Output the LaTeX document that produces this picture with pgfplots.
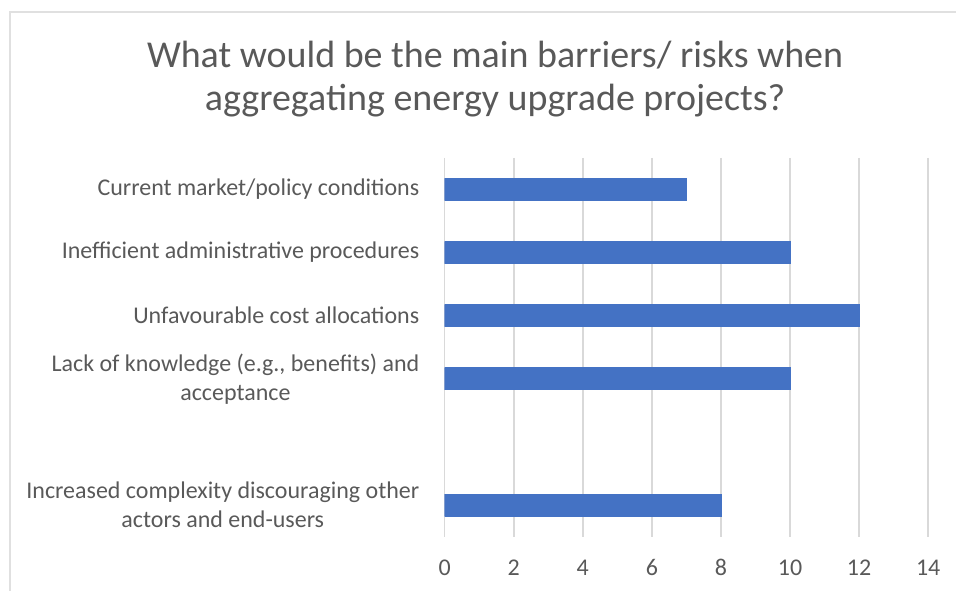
\documentclass[border=0pt]{standalone}
\usepackage{fontspec}
\setmainfont{Carlito}
\usepackage{pgfplots}
\pgfplotsset{compat=1.18}
\definecolor{barblue}{HTML}{4472C4}
\definecolor{txt}{HTML}{595959}
\definecolor{gridc}{HTML}{D9D9D9}
\definecolor{frame}{HTML}{E0E0E0}
\begin{document}
\begin{tikzpicture}
% page box: 957 x 591 px, 1px = 0.5bp
\path (0,0) rectangle (478.5bp,-295.5bp);
\draw[frame, line width=0.8bp] (5bp,-295.5bp) -- (5bp,-6bp) -- (478.5bp,-6bp);
\node[txt, align=center, font=\fontsize{19bp}{21.5bp}\selectfont] at (247.75bp,-39.5bp)
  {What would be the main barriers/ risks when\\aggregating energy upgrade projects?};
\begin{axis}[
  at={(222.5bp,-268.5bp)}, anchor=south west,
  scale only axis, width=242bp, height=189.5bp,
  xbar, bar width=11bp,
  xmin=0, xmax=14, ymin=0.5, ymax=6.5, y dir=reverse,
  xtick={0,2,...,14},
  ytick={1,2,3,4,6},
  yticklabels={Current market/policy conditions,
               Inefficient administrative procedures,
               Unfavourable cost allocations,
               {Lack of knowledge (e.g., benefits) and\\acceptance},
               {Increased complexity discouraging other\\actors and end-users}},
  xmajorgrids, grid style={gridc, line width=0.8bp},
  axis line style={draw=none},
  major tick length=0pt,
  /pgf/number format/assume math mode=true,
  tick label style={txt, font=\fontsize{12bp}{14.5bp}\selectfont},
  yticklabel style={align=center, inner sep=0pt, xshift=-12.5bp},
  xticklabel style={inner sep=0pt, anchor=center, yshift=-15.5bp},
]
\addplot[fill=barblue, draw=barblue] coordinates {
  (7,1) (10,2) (12,3) (10,4) (8,6)
};
\end{axis}
\end{tikzpicture}
\end{document}
